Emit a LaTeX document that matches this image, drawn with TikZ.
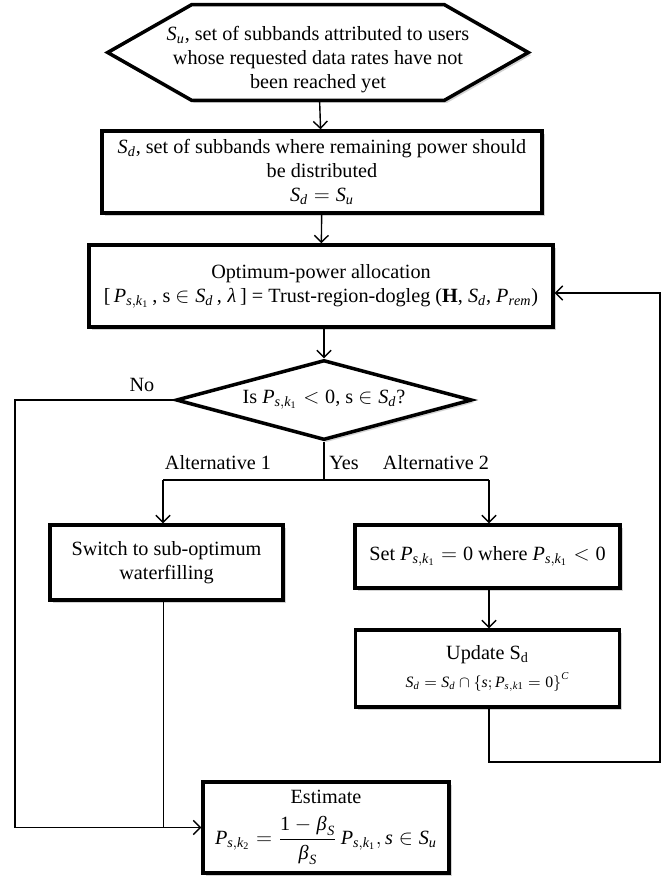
\documentclass[tikz,border=0pt]{standalone}
\usepackage{amsmath,amssymb}
\usepackage{mathspec}
\setmainfont{Liberation Serif}
\setmathsfont(Digits,Latin,Greek){Liberation Serif}
\setmathrm{Liberation Serif}
\usetikzlibrary{
arrows.meta,
backgrounds,
calc,
positioning,
shadows,
shapes.geometric
}
\tikzset{>={Straight Barb[length=4pt,width=8pt]}}
\newcommand{\flowfont}{\fontsize{11.5}{13.7}\selectfont}

\begin{document}
\begin{tikzpicture}[x=0.02cm, y=-0.02cm, every node/.style={font=\flowfont},
	outline/.style={draw, line width=2pt, fill=white,
		drop shadow={shadow xshift=1.5pt, shadow yshift=-1.5pt, opacity=0.35}},
	block/.style={outline, align=center, inner sep=2pt},
	hexa/.style={align=center, inner sep=0pt},
	decide/.style={block, diamond, aspect=3.7, inner sep=0pt},
	conn/.style={line width=0.8pt},
	lbl/.style={inner sep=1pt}]
	\useasboundingbox (0,0) rectangle (664,876);
	
	\node[hexa, minimum width=8.4cm, minimum height=1.9cm] (su) at (318,52.5)
		{\rule{0pt}{0.58cm}$S_u$, set of subbands attributed to users\\ whose requested data rates have not\\ been reached yet};
	\node[block, minimum width=8.8cm, minimum height=1.64cm] (sd) at (322,172)
		{$S_d$, set of subbands where remaining power should\\ be distributed\\ $S_d = S_u$};
	\node[block, minimum width=9.28cm, minimum height=1.64cm] (opt) at (321,286)
		{Optimum-power allocation\\ {[}\,$P_{s,k_1}$\,, s $\in S_d$\,, $\lambda$\,] = Trust-region-dogleg (\textbf{H}, $S_d$, $P_{rem}$)};
	\node[decide, minimum width=5.92cm, minimum height=1.6cm] (isneg) at (324,400)
		{Is $P_{s,k_1} < 0$, s $\in S_d$?};
	\node[block, minimum width=4.66cm, minimum height=1.5cm] (wf) at (166.5,562.5)
		{Switch to sub-optimum\\ waterfilling};
	\node[block, minimum width=5.3cm, minimum height=1.26cm] (setp) at (487.5,556.5)
		{Set $P_{s,k_1} = 0$ where $P_{s,k_1} < 0$};
	\node[block, minimum width=5.28cm, minimum height=1.54cm] (upd) at (487.5,668.5)
		{Update S\textsubscript{d}\\[2pt] {\small $S_d = S_d \cap \left\{s; P_{s,k1} = 0\right\}^C$}};
	\node[block, minimum width=4.92cm, minimum height=1.82cm] (est) at (326,827.5)
		{Estimate\\[6pt] $P_{s,k_2} = \dfrac{1-\beta_S}{\beta_S}\, P_{s,k_1}, s \in S_u$};
	
	% hexagon outline behind the text
	\begin{scope}[on background layer]
		\draw[outline] ([xshift=1.68cm]su.north west) -- ([xshift=-1.68cm]su.north east) -- (su.east)
			-- ([xshift=-1.68cm]su.south east) -- ([xshift=1.68cm]su.south west) -- (su.west) -- cycle;
	\end{scope}
	
	% branch points
	\coordinate (yesmid) at (324,480);
	\coordinate (altl) at (163,480);
	\coordinate (altr) at (489,480);
	\coordinate (nocorner) at (15,400);
	\coordinate (back) at (660,762);
	\coordinate (fbrow) at (660,293);
	
	\node[lbl] (no) at (142,385) {No};
	\node[lbl] (alt1) at (218,463) {Alternative 1};
	\node[lbl] (yes) at (344,463) {Yes};
	\node[lbl] (alt2) at (436,463) {Alternative 2};
	
	\draw[conn,->] (su) -- (sd);
	\draw[conn,->] (sd) -- (opt);
	\draw[conn,->] (opt.south -| isneg.north) -- (isneg);
	
	\draw[conn] (isneg.south) -- (yesmid);
	\draw[conn] (altl) -- (altr);
	\draw[conn,->] (altl) -- (altl |- wf.north);
	\draw[conn,->] (altr) -- (altr |- setp.north);
	\draw[conn,->] (setp.south -| altr) -- (altr |- upd.north);
	
	\draw[conn,->] (upd.south -| altr) |- (back) -- (fbrow) -- (fbrow -| opt.east);
	
	\draw[conn,->] (isneg.west) -- (nocorner) |- (est.west);
	\draw[line width=0.45pt] (wf.south -| altl) -- (altl |- est.west);
\end{tikzpicture}
\end{document}
